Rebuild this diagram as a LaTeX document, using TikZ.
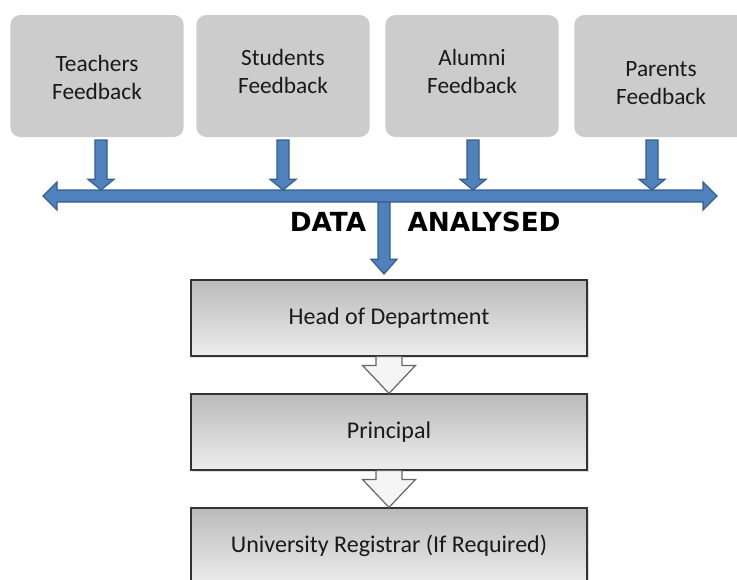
\documentclass[tikz,border=0pt]{standalone}
\usepackage{fontspec}
\setmainfont{Carlito}
\newfontfamily\headfont{DejaVu Sans}
\usepackage{tikz}
\usetikzlibrary{calc,shadows}

\definecolor{barblue}{HTML}{4F81BD}
\definecolor{bardark}{HTML}{385D8A}

\tikzset{
  srcbox/.style={draw=none, fill=black!20, rounded corners=7.5pt, minimum width=130pt,
    minimum height=91.5pt, align=center, font=\fontsize{17.5}{21}\selectfont, text=black!90},
  levelbox/.style={draw=black!80, line width=0.9pt, top color=black!27, bottom color=black!7,
    minimum width=297pt, minimum height=57pt, font=\fontsize{18}{21}\selectfont, text=black!90,
    drop shadow={opacity=0.25, shadow xshift=1.2pt, shadow yshift=-1.2pt}},
  bluearrow/.style={fill=barblue, draw=bardark, line width=0.9pt, line join=miter},
  hollowarrow/.style={fill=black!4, draw=black!60, line width=0.9pt, line join=miter},
  biglabel/.style={font=\headfont\bfseries\fontsize{19.7}{24}\selectfont, text=black}
}

% vertical block arrow: from, to, shaft half, head half, head length
\newcommand{\vblock}[6]{%
  \draw[#6] let \p1=(#1), \p2=(#2) in
    (\x1-#3,\y1) -- (\x1-#3,\y2+#5) -- (\x1-#4,\y2+#5) -- (\x1,\y2)
    -- (\x1+#4,\y2+#5) -- (\x1+#3,\y2+#5) -- (\x1+#3,\y1) -- cycle;}

\begin{document}
\begin{tikzpicture}[x=0.75pt, y=-0.75pt]
        \useasboundingbox (0,0) rectangle (737,579);
        \clip (0,0) rectangle (737,579);

        % feedback sources
        \node[srcbox] (teach) at (97,76) {\rule{0pt}{15pt}Teachers\\Feedback};
        \node[srcbox] (stud) at (283,76) {Students\\Feedback\rule[-7pt]{0pt}{1pt}};
        \node[srcbox] (alum) at (472,76) {Alumni\\Feedback\rule[-7pt]{0pt}{1pt}};
        \node[srcbox] (par) at (661,76) {\rule{0pt}{22pt}Parents\\Feedback};

        % reporting levels
        \node[levelbox] (hod) at (389,318) {Head of Department};
        \node[levelbox] (prin) at (389,432) {Principal};
        \node[levelbox] (reg) at (389,546) {University Registrar (If Required)};

        % drop into the first level (under the bar)
        \coordinate (drop) at (384,196);
        \coordinate (dropend) at (384,274);
        \vblock{drop}{dropend}{4.5pt}{9.75pt}{11pt}{bluearrow}

        % collecting bar
        \coordinate (barL) at (43,196);
        \coordinate (barR) at (717,196);
        \coordinate (barT) at (0,190);
        \draw[bluearrow] let \p1=(barL), \p2=(barR) in
          (\x1,\y1) -- (\x1+10.5pt,\y1+10.5pt) -- (\x1+10.5pt,\y1+4.5pt) -- (\x2-10.5pt,\y1+4.5pt)
          -- (\x2-10.5pt,\y1+10.5pt) -- (\x2,\y1) -- (\x2-10.5pt,\y1-10.5pt) -- (\x2-10.5pt,\y1-4.5pt)
          -- (\x1+10.5pt,\y1-4.5pt) -- (\x1+10.5pt,\y1-10.5pt) -- cycle;

        \foreach \src/\xx in {teach/101, stud/283, alum/473, par/652} {
          \coordinate (\src-top) at (\xx,140);
          \vblock{\src-top}{\src-top |- barT}{4.5pt}{9.75pt}{8pt}{bluearrow}
        }

        \node[biglabel] (data) at (328,222) {DATA};
        \node[biglabel] (anal) at (484,222) {ANALYSED};

        \vblock{hod.south}{prin.north}{9.75pt}{19.9pt}{21pt}{hollowarrow}
        \vblock{prin.south}{reg.north}{9.75pt}{19.9pt}{21pt}{hollowarrow}
    \end{tikzpicture}
\end{document}
